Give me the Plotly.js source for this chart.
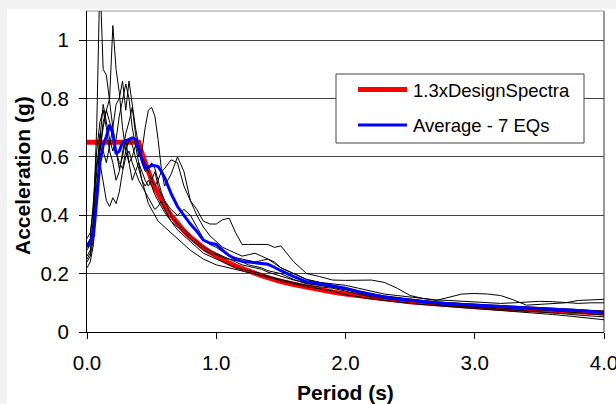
<!DOCTYPE html>
<html>
<head>
<meta charset="utf-8">
<script src="https://cdn.plot.ly/plotly-3.0.1.min.js"></script>
<style>
  html, body { margin: 0; padding: 0; background: #f2f2f2; width: 616px; height: 404px; overflow: hidden; }
  #chart { position: absolute; left: 7px; top: 9px; width: 609px; height: 395px; background: #ffffff; }
</style>
</head>
<body>
<div id="chart"></div>
<script>
// Period grid (s)
const periods = [0, 0.025, 0.05, 0.075, 0.1, 0.125, 0.15, 0.175, 0.2, 0.225, 0.25, 0.275, 0.3, 0.325, 0.35, 0.375, 0.4, 0.425, 0.45, 0.475, 0.5, 0.525, 0.55, 0.575, 0.6,
  0.65, 0.7, 0.75, 0.8, 0.85, 0.9, 0.95, 1.0, 1.05, 1.1, 1.15, 1.2, 1.25, 1.3, 1.35, 1.4, 1.45, 1.5,
  1.6, 1.7, 1.8, 1.9, 2.0, 2.1, 2.2, 2.3, 2.4, 2.5, 2.6, 2.7, 2.8, 2.9, 3.0, 3.1, 3.2, 3.3, 3.4, 3.5, 3.6, 3.7, 3.8, 3.9, 4.0];

// 1.3 x Design spectra (g)
const designSpectra = [0.65, 0.65, 0.65, 0.65, 0.65, 0.65, 0.65, 0.65, 0.65, 0.65, 0.65, 0.65, 0.65, 0.65, 0.65, 0.65, 0.65, 0.612, 0.578, 0.547, 0.52, 0.495, 0.473, 0.452, 0.433,
  0.40, 0.371, 0.347, 0.325, 0.306, 0.289, 0.274, 0.26, 0.248, 0.236, 0.226, 0.217, 0.208, 0.20, 0.193, 0.186, 0.179, 0.173,
  0.163, 0.153, 0.144, 0.137, 0.13, 0.124, 0.118, 0.113, 0.108, 0.104, 0.10, 0.096, 0.093, 0.09, 0.087, 0.084, 0.081, 0.079, 0.076, 0.074, 0.072, 0.07, 0.068, 0.067, 0.065];

// Average of 7 earthquakes (g)
const average7 = [0.29, 0.31, 0.33, 0.45, 0.58, 0.64, 0.67, 0.71, 0.68, 0.61, 0.62, 0.65, 0.655, 0.66, 0.665, 0.66, 0.63, 0.59, 0.56, 0.565, 0.571, 0.57, 0.567, 0.55, 0.53,
  0.475, 0.43, 0.40, 0.37, 0.345, 0.315, 0.305, 0.30, 0.28, 0.262, 0.25, 0.242, 0.24, 0.238, 0.235, 0.232, 0.222, 0.21,
  0.19, 0.172, 0.165, 0.158, 0.15, 0.138, 0.128, 0.12, 0.113, 0.108, 0.104, 0.10, 0.097, 0.094, 0.092, 0.089, 0.087, 0.085, 0.083, 0.081, 0.079, 0.077, 0.074, 0.07, 0.066];

// Individual earthquake spectra (g)
const eq1 = [0.25, 0.27, 0.40, 0.70, 1.22, 0.90, 0.88, 0.78, 0.70, 0.62, 0.56, 0.60, 0.66, 0.58, 0.52, 0.55, 0.58, 0.52, 0.48, 0.46, 0.44, 0.42, 0.43, 0.45, 0.42,
  0.38, 0.35, 0.33, 0.31, 0.29, 0.27, 0.26, 0.25, 0.24, 0.23, 0.22, 0.215, 0.21, 0.205, 0.20, 0.19, 0.185, 0.18,
  0.17, 0.16, 0.155, 0.15, 0.14, 0.13, 0.12, 0.115, 0.11, 0.105, 0.10, 0.095, 0.09, 0.088, 0.085, 0.08, 0.078, 0.075, 0.072, 0.07, 0.066, 0.062, 0.058, 0.055, 0.052];
const eq2 = [0.22, 0.24, 0.30, 0.45, 0.62, 0.72, 0.76, 0.80, 1.05, 0.90, 0.82, 0.70, 0.62, 0.58, 0.60, 0.64, 0.58, 0.55, 0.52, 0.50, 0.52, 0.55, 0.50, 0.47, 0.45,
  0.40, 0.37, 0.35, 0.33, 0.31, 0.29, 0.28, 0.27, 0.26, 0.25, 0.245, 0.24, 0.23, 0.225, 0.22, 0.21, 0.205, 0.20,
  0.18, 0.165, 0.16, 0.155, 0.145, 0.135, 0.125, 0.118, 0.112, 0.108, 0.104, 0.10, 0.098, 0.095, 0.092, 0.09, 0.088, 0.085, 0.082, 0.08, 0.078, 0.075, 0.072, 0.07, 0.068];
const eq3 = [0.28, 0.30, 0.38, 0.55, 0.68, 0.62, 0.58, 0.64, 0.70, 0.78, 0.80, 0.86, 0.76, 0.86, 0.78, 0.70, 0.64, 0.60, 0.58, 0.55, 0.52, 0.50, 0.52, 0.55, 0.56,
  0.59, 0.58, 0.50, 0.45, 0.42, 0.38, 0.37, 0.37, 0.385, 0.39, 0.34, 0.30, 0.30, 0.30, 0.30, 0.30, 0.29, 0.295,
  0.24, 0.20, 0.19, 0.178, 0.177, 0.178, 0.178, 0.17, 0.15, 0.125, 0.115, 0.108, 0.12, 0.13, 0.132, 0.13, 0.125, 0.11, 0.092, 0.095, 0.098, 0.10, 0.108, 0.11, 0.112];
const eq4 = [0.30, 0.32, 0.45, 0.62, 0.72, 0.76, 0.70, 0.62, 0.58, 0.52, 0.55, 0.62, 0.68, 0.72, 0.77, 0.68, 0.60, 0.62, 0.70, 0.76, 0.77, 0.74, 0.66, 0.56, 0.50,
  0.54, 0.60, 0.55, 0.45, 0.40, 0.36, 0.33, 0.31, 0.29, 0.28, 0.27, 0.26, 0.265, 0.27, 0.26, 0.25, 0.24, 0.22,
  0.20, 0.18, 0.17, 0.165, 0.16, 0.15, 0.14, 0.13, 0.125, 0.12, 0.115, 0.11, 0.108, 0.105, 0.103, 0.10, 0.098, 0.10, 0.103, 0.105, 0.104, 0.10, 0.098, 0.10, 0.10];
const eq5 = [0.24, 0.26, 0.32, 0.50, 0.58, 0.52, 0.45, 0.43, 0.46, 0.44, 0.48, 0.55, 0.60, 0.62, 0.58, 0.55, 0.52, 0.50, 0.48, 0.44, 0.42, 0.40, 0.38, 0.37, 0.36,
  0.34, 0.32, 0.30, 0.28, 0.265, 0.25, 0.24, 0.23, 0.225, 0.22, 0.215, 0.21, 0.205, 0.20, 0.195, 0.188, 0.182, 0.175,
  0.165, 0.155, 0.148, 0.14, 0.128, 0.12, 0.113, 0.108, 0.102, 0.098, 0.094, 0.09, 0.086, 0.083, 0.08, 0.077, 0.074, 0.07, 0.066, 0.063, 0.06, 0.056, 0.052, 0.047, 0.042];
const eq6 = [0.26, 0.28, 0.34, 0.48, 0.66, 0.78, 0.72, 0.66, 0.62, 0.66, 0.74, 0.80, 0.85, 0.80, 0.70, 0.64, 0.62, 0.58, 0.55, 0.56, 0.58, 0.56, 0.52, 0.48, 0.45,
  0.42, 0.40, 0.42, 0.40, 0.36, 0.32, 0.30, 0.29, 0.275, 0.26, 0.255, 0.25, 0.245, 0.24, 0.245, 0.25, 0.235, 0.22,
  0.20, 0.18, 0.17, 0.16, 0.15, 0.14, 0.13, 0.122, 0.116, 0.11, 0.105, 0.10, 0.095, 0.09, 0.088, 0.085, 0.082, 0.08, 0.078, 0.075, 0.073, 0.07, 0.067, 0.062, 0.058];
const eq7 = [0.32, 0.34, 0.42, 0.58, 0.62, 0.70, 0.76, 0.72, 0.68, 0.62, 0.58, 0.56, 0.62, 0.66, 0.64, 0.60, 0.56, 0.52, 0.50, 0.52, 0.50, 0.47, 0.45, 0.43, 0.41,
  0.38, 0.36, 0.34, 0.32, 0.30, 0.28, 0.27, 0.265, 0.255, 0.25, 0.24, 0.23, 0.225, 0.22, 0.215, 0.205, 0.198, 0.19,
  0.178, 0.168, 0.16, 0.152, 0.145, 0.138, 0.13, 0.124, 0.118, 0.113, 0.108, 0.103, 0.10, 0.097, 0.095, 0.093, 0.091, 0.089, 0.087, 0.085, 0.083, 0.08, 0.077, 0.074, 0.072];

const earthquakes = [eq1, eq2, eq3, eq4, eq5, eq6, eq7];

const xTickVals = [0, 1, 2, 3, 4];
const xTickText = ['0.0', '1.0', '2.0', '3.0', '4.0'];
const yTickVals = [0, 0.2, 0.4, 0.6, 0.8, 1.0];
const yTickText = ['0', '0.2', '0.4', '0.6', '0.8', '1'];

const seriesNames = ['1.3xDesignSpectra', 'Average - 7 EQs'];
const seriesColors = ['#ff0000', '#0000ff'];

const FONT = 'Liberation Sans, Arial, sans-serif';

const traces = [];
traces.push({
  x: periods, y: designSpectra, type: 'scatter', mode: 'lines',
  name: seriesNames[0], line: { color: seriesColors[0], width: 5 }
});
earthquakes.forEach((eq, i) => {
  traces.push({
    x: periods, y: eq, type: 'scatter', mode: 'lines', name: 'EQ ' + (i + 1),
    line: { color: '#000000', width: 1 }
  });
});
traces.push({
  x: periods, y: average7, type: 'scatter', mode: 'lines',
  name: seriesNames[1], line: { color: seriesColors[1], width: 3 }
});

// plot area: page x 87..604, y 11..332
const px = v => (v - 87) / 517;
const py = v => (332 - v) / 321;

const layout = {
  width: 609, height: 395,
  margin: { l: 80, r: 12, t: 2, b: 72 },
  paper_bgcolor: '#ffffff', plot_bgcolor: '#ffffff',
  font: { family: FONT, size: 20, color: '#000000' },
  showlegend: false,
  xaxis: {
    range: [0, 4], tickvals: xTickVals, ticktext: xTickText,
    showgrid: false, zeroline: false, showline: true, linecolor: '#000000', linewidth: 1,
    ticks: 'outside', ticklen: 6, tickcolor: '#000000', tickwidth: 1,
    ticklabeloverflow: 'allow', ticklabelstandoff: 6,
    tickfont: { family: FONT, size: 20.5 }
  },
  yaxis: {
    range: [0, 1.1], tickvals: yTickVals, ticktext: yTickText,
    showgrid: true, gridcolor: '#444444', gridwidth: 1,
    zeroline: false, showline: true, linecolor: '#000000', linewidth: 1,
    ticks: 'outside', ticklen: 7, tickcolor: '#000000', tickwidth: 1,
    ticklabelstandoff: 6,
    tickfont: { family: FONT, size: 20.5 }
  },
  shapes: [
    { type: 'line', xref: 'paper', yref: 'paper', x0: 0, x1: 1, y0: 1, y1: 1, line: { color: '#999999', width: 1 }, layer: 'below' },
    { type: 'line', xref: 'paper', yref: 'paper', x0: 1, x1: 1, y0: 0, y1: 1, line: { color: '#999999', width: 2 }, layer: 'below' },
    // legend box
    { type: 'rect', xref: 'paper', yref: 'paper', x0: px(336), x1: px(584), y0: py(143), y1: py(74),
      fillcolor: '#ffffff', line: { color: '#444444', width: 1 }, layer: 'above' },
    { type: 'line', xref: 'paper', yref: 'paper', x0: px(358), x1: px(407), y0: py(89.5), y1: py(89.5),
      line: { color: seriesColors[0], width: 5 }, layer: 'above' },
    { type: 'line', xref: 'paper', yref: 'paper', x0: px(358), x1: px(407), y0: py(125), y1: py(125),
      line: { color: seriesColors[1], width: 3 }, layer: 'above' }
  ],
  annotations: [
    { xref: 'paper', yref: 'paper', x: px(411), y: py(90), xanchor: 'left', yanchor: 'middle', showarrow: false,
      text: seriesNames[0], font: { family: FONT, size: 18.5, color: '#000000' } },
    { xref: 'paper', yref: 'paper', x: px(411), y: py(125.5), xanchor: 'left', yanchor: 'middle', showarrow: false,
      text: seriesNames[1], font: { family: FONT, size: 18.5, color: '#000000' } },
    { xref: 'paper', yref: 'paper', x: 0.5, y: py(393), xanchor: 'center', yanchor: 'middle', showarrow: false,
      text: 'Period (s)', font: { family: FONT, size: 21, weight: 'bold', color: '#000000' } },
    { xref: 'paper', yref: 'paper', x: px(23), y: py(176), xanchor: 'center', yanchor: 'middle', showarrow: false,
      textangle: -90, text: 'Acceleration (g)', font: { family: FONT, size: 21, weight: 'bold', color: '#000000' } }
  ]
};

Plotly.newPlot('chart', traces, layout, { displayModeBar: false, staticPlot: true });
</script>
</body>
</html>
